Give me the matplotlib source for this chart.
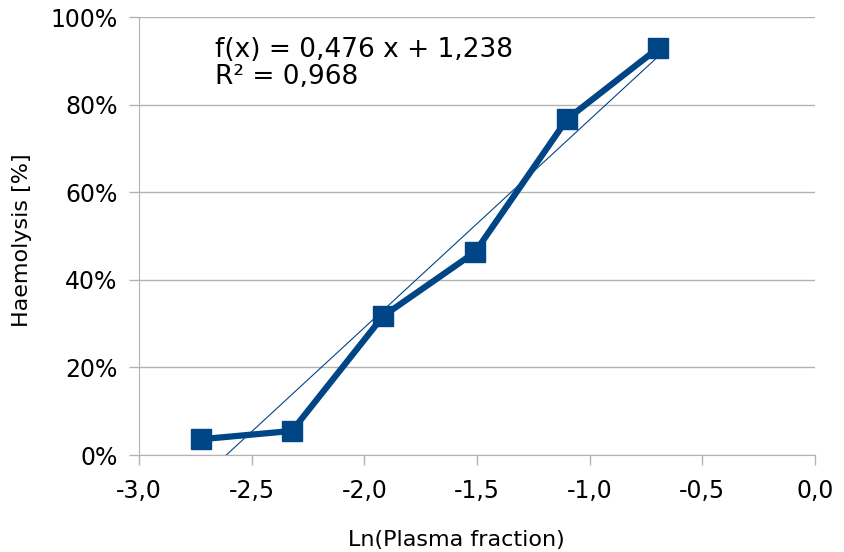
import numpy as np
import matplotlib.pyplot as plt
from matplotlib.ticker import FuncFormatter, MultipleLocator

# data
ln_plasma = [-2.725, -2.321, -1.917, -1.509, -1.100, -0.696]
haemolysis = [0.036, 0.055, 0.317, 0.463, 0.767, 0.929]
fit_eq = "f(x) = 0,476 x + 1,238"
fit_r2 = "R² = 0,968"

blue = '#004586'
grid_gray = '#b3b3b3'

plt.rcParams['font.family'] = 'DejaVu Sans'

fig = plt.figure(figsize=(8.45, 5.52), dpi=100)
ax = fig.add_axes([0.1645, 0.1757, 0.8, 0.7935])

# linear trend line
slope, intercept = np.polyfit(ln_plasma, haemolysis, 1)
xt = np.array([min(ln_plasma), max(ln_plasma)])
ax.plot(xt, slope * xt + intercept, color=blue, lw=0.8, zorder=2)

ax.plot(ln_plasma, haemolysis, color=blue, lw=4.5, marker='s', ms=14.5,
        zorder=3, clip_on=False)

ax.set_xlim(-3.0, 0.0)
ax.set_ylim(0, 1.0)
ax.xaxis.set_major_locator(MultipleLocator(0.5))
ax.yaxis.set_major_locator(MultipleLocator(0.2))
ax.xaxis.set_major_formatter(FuncFormatter(lambda v, p: f"{v:.1f}".replace('.', ',')))
ax.yaxis.set_major_formatter(FuncFormatter(lambda v, p: f"{v * 100:.0f}%"))

ax.grid(axis='y', color=grid_gray, lw=1)
ax.set_axisbelow(True)
for s in ['top', 'right']:
    ax.spines[s].set_visible(False)
for s in ['left', 'bottom']:
    ax.spines[s].set_color(grid_gray)
ax.tick_params(axis='both', colors=grid_gray, labelcolor='black',
               labelsize=17, length=7.5, width=1)
ax.tick_params(axis='y', pad=8)
ax.tick_params(axis='x', pad=10)

ax.set_xlabel('Ln(Plasma fraction)', fontsize=16)
ax.xaxis.set_label_coords(0.469, -0.194)
ax.set_ylabel('Haemolysis [%]', fontsize=16)
ax.yaxis.set_label_coords(-0.173, 0.491)
ax.xaxis.label.set_va('center')
ax.yaxis.label.set_va('center')

ax.text(0.1124, 0.9087, fit_eq, transform=ax.transAxes, fontsize=19,
        va='baseline', ha='left')
ax.text(0.1124, 0.847, fit_r2, transform=ax.transAxes, fontsize=19,
        va='baseline', ha='left')

fig.savefig('out.png', dpi=100)
